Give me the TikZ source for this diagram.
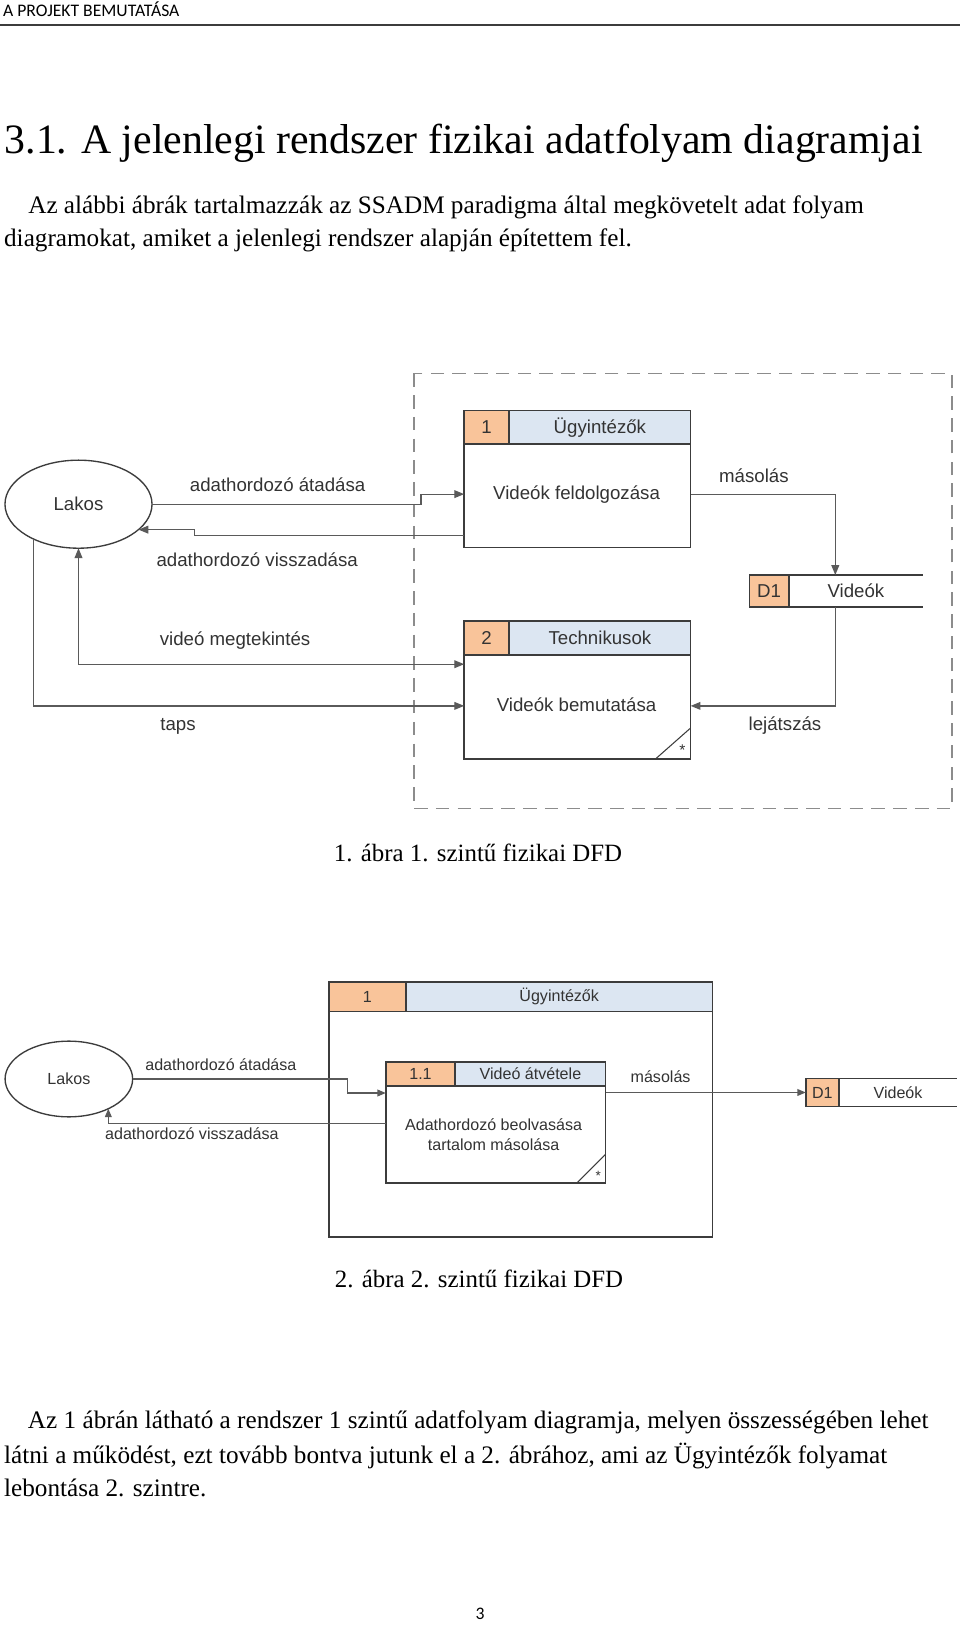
\documentclass[tikz,border=0pt]{standalone}
\usepackage{fontspec}
\setmainfont{Liberation Serif}
\newfontfamily\diafont{Liberation Sans}
\newfontfamily\hdrfont{Carlito}
\usepackage{xcolor}
\definecolor{idorange}{HTML}{F9C49A}
\definecolor{headblue}{HTML}{DCE6F2}
\definecolor{lineg}{HTML}{5A5A5A}
\definecolor{boxg}{HTML}{3C3C3C}
\definecolor{txtg}{HTML}{333333}
\definecolor{dashg}{HTML}{8C8C8C}
\usetikzlibrary{shapes.geometric, arrows.meta, positioning, calc}

\begin{document}
\begin{tikzpicture}[x=1pt, y=1pt,
  every node/.style={inner sep=0pt, outer sep=0pt},
  procbox/.style={draw=boxg, line width=1.5pt, fill=white, rectangle},
  idcell/.style={draw=boxg, line width=1.5pt, fill=idorange, text=txtg, anchor=north west},
  headcell/.style={draw=boxg, line width=1.5pt, fill=headblue, text=txtg, anchor=north west},
  entity/.style={draw=boxg, line width=1.3pt, ellipse, fill=white, text=txtg},
  storeline/.style={draw=boxg, line width=1.5pt},
  dashbox/.style={draw=dashg, line width=1.5pt, dash pattern=on 13pt off 8pt},
  flow/.style={draw=lineg, line width=1.2pt, -{Triangle[length=9.5pt,width=7.5pt]}},
  flowboth/.style={draw=lineg, line width=1.2pt, {Triangle[length=9.5pt,width=7.5pt]}-{Triangle[length=9.5pt,width=7.5pt]}},
  flowsm/.style={draw=lineg, line width=1.1pt, -{Triangle[length=8pt,width=6.5pt]}},
  big/.style={font=\diafont\fontsize{18}{22}\selectfont, text=txtg},
  small/.style={font=\diafont\fontsize{15.5}{19}\selectfont, text=txtg},
  body/.style={font=\fontsize{24.3}{28}\selectfont, anchor=base west}]

\fill[white] (0,0) rectangle (926,-1568);
\useasboundingbox (0,0) rectangle (926,-1568);

\node[anchor=base west, font=\hdrfont\fontsize{17}{20}\selectfont] (hdr) at (3,-16) {A PROJEKT BEMUTATÁSA};
\draw[boxg, line width=1.5pt] (0,-24) -- (926,-24);
\node[anchor=base west, font=\fontsize{40.3}{48}\selectfont] (title) at (4.5,-148) {3.1. A jelenlegi rendszer fizikai adatfolyam diagramjai};
\node[body] (par1a) at (27.3,-205.8) {Az alábbi ábrák tartalmazzák az SSADM paradigma által megkövetelt adat folyam};
\node[body] (par1b) at (4,-238) {diagramokat, amiket a jelenlegi rendszer alapján építettem fel.};

\draw[dashbox] (399,-360) rectangle (918,-779.6);

\node[entity, big, minimum width=141.8pt, minimum height=84.9pt] (lakos1) at (75.7,-486.2) {Lakos};

\node[procbox, minimum width=218.4pt, minimum height=132pt] (p1) at (556.8,-462) {};
\node[idcell, big, minimum width=43.4pt, minimum height=32pt] (p1id) at (p1.north west) {1};
\node[headcell, big, minimum width=175pt, minimum height=32pt] (p1name) at (p1id.north east) {Ügyintézők};
\node[big, anchor=base] (p1txt) at (556,-482) {Videók feldolgozása};

\node[procbox, minimum width=218.4pt, minimum height=133.3pt] (p2) at (556.8,-665.35) {};
\node[idcell, big, minimum width=43.4pt, minimum height=33pt] (p2id) at (p2.north west) {2};
\node[headcell, big, minimum width=175pt, minimum height=33pt] (p2name) at (p2id.north east) {Technikusok};
\node[big, anchor=base] (p2txt) at (556,-686.2) {Videók bemutatása};
\draw[boxg, line width=1pt] ($(p2.south east)+(-34,0)$) -- ($(p2.south east)+(0,30)$);
\node[text=txtg, font=\diafont\fontsize{15}{15}\selectfont] (p2star) at ($(p2.south east)+(-8,9)$) {*};

\node[idcell, big, anchor=center, minimum width=38pt, minimum height=31pt] (d1) at (741.7,-570) {D1};
\node[big, anchor=west, minimum width=129.3pt, minimum height=31pt] (d1name) at (d1.east) {Videók};
\draw[storeline] (d1name.north west) -- (d1name.north east) (d1name.south west) -- (d1name.south east);
\coordinate (d1in) at ($(d1name.north west)+(44.8,0)$);
\coordinate (d1out) at ($(d1name.south west)+(44.8,0)$);

\draw[flow] (lakos1.east) -- (406,-486.2) |- (p1.west |- 0,-476.5);
\draw[flow] (p1.west |- 0,-516.7) -- (187.5,-516.7) |- (lakos1.-23);
\draw[flowboth] (lakos1.south) |- (p2.west |- 0,-640.5);
\draw[flow] (lakos1.-142) |- (p2.west |- 0,-680.7);
\draw[flow] (p1.east |- 0,-476.5) -| (d1in);
\draw[flow] (d1out) |- (p2.east |- 0,-680.7);

\node[big, anchor=base] (l1) at (267.7,-474.3) {adathordozó átadása};
\node[big, anchor=base] (l2) at (248,-546.5) {adathordozó visszadása};
\node[big, anchor=base] (l3) at (226.7,-622.2) {videó megtekintés};
\node[big, anchor=base] (l4) at (171.7,-704.9) {taps};
\node[big, anchor=base] (l5) at (727,-465.3) {másolás};
\node[big, anchor=base] (l6) at (757,-704.9) {lejátszás};

\node[anchor=base, font=\fontsize{24}{28}\selectfont] (cap1) at (461,-831) {1. ábra 1. szintű fizikai DFD};

\node[procbox, minimum width=370pt, minimum height=246pt] (q1) at (502,-1070) {};
\node[idcell, small, minimum width=74.5pt, minimum height=28.5pt] (q1id) at (q1.north west) {1};
\node[headcell, small, minimum width=295.5pt, minimum height=28.5pt] (q1name) at (q1id.north east) {Ügyintézők};

\node[entity, small, minimum width=123pt, minimum height=73pt] (lakos2) at (66.4,-1040.5) {Lakos};

\node[procbox, minimum width=212pt, minimum height=117pt] (q11) at (478,-1082.5) {};
\node[idcell, small, minimum width=67pt, minimum height=23.5pt] (q11id) at (q11.north west) {1.1};
\node[headcell, small, minimum width=145pt, minimum height=23.5pt] (q11name) at (q11id.north east) {Videó átvétele};
\node[small, align=center] (q11txt) at (476,-1094.5) {Adathordozó beolvasása\\tartalom másolása};
\draw[boxg, line width=1pt] ($(q11.south east)+(-28,0)$) -- ($(q11.south east)+(0,28)$);
\node[text=txtg, font=\diafont\fontsize{13}{13}\selectfont] (q11star) at ($(q11.south east)+(-7,7)$) {*};

\node[idcell, small, anchor=center, minimum width=32pt, minimum height=27pt] (d1b) at (793,-1053.5) {D1};
\node[small, anchor=west, minimum width=114pt, minimum height=27pt] (d1bname) at (d1b.east) {Videók};
\draw[storeline] (d1bname.north west) -- (d1bname.north east) (d1bname.south west) -- (d1bname.south east);

\draw[flowsm] (lakos2.east) -- (335,-1040.5) |- (q11.west |- 0,-1054);
\draw[flowsm] (q11.west |- 0,-1083) -| (lakos2.-37);
\draw[flowsm] (q11.east |- d1b.west) -- (d1b.west);

\node[small, anchor=base] (m1) at (213,-1032) {adathordozó átadása};
\node[small, anchor=base] (m2) at (185,-1099) {adathordozó visszadása};
\node[small, anchor=base] (m3) at (637,-1044) {másolás};

\node[anchor=base, font=\fontsize{24}{28}\selectfont] (cap2) at (462,-1242) {2. ábra 2. szintű fizikai DFD};

\node[body] (par2a) at (27,-1378) {Az 1 ábrán látható a rendszer 1 szintű adatfolyam diagramja, melyen összességében lehet};
\node[body] (par2b) at (4,-1411) {látni a működést, ezt tovább bontva jutunk el a 2. ábrához, ami az Ügyintézők folyamat};
\node[body] (par2c) at (4,-1443) {lebontása 2. szintre.};

\node[anchor=base, font=\hdrfont\fontsize{17}{20}\selectfont] (pgno) at (463,-1562) {3};
\end{tikzpicture}
\end{document}
